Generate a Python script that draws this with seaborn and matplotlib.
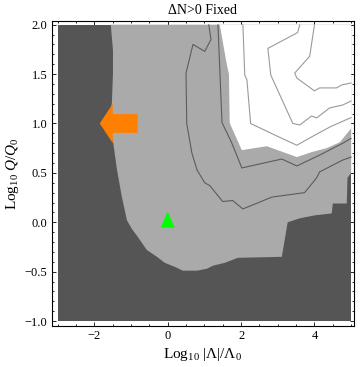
import numpy as np
import pandas as pd
import seaborn as sns
import matplotlib.pyplot as plt

# scan range of the parameter plane
x_range = [-3, 5]
y_range = [-1, 2]

# light grey region, clockwise from top left
light_x = [-1.55, -1.49, -1.49, -1.52, -1.60, -1.49, -1.38, -1.25, -1.11, -0.97, -0.81, -0.57,
           -0.29, -0.08, 0.25, 0.41, 0.80, 1.07, 1.23, 1.56, 1.91, 3.05, 3.11, 3.27, 3.60,
           4.01, 4.47, 4.50, 4.88, 4.90, 5.0, 5.0]
light_y = [2.0, 1.74, 1.51, 1.21, 1.0, 0.82, 0.53, 0.26, 0.02, -0.07, -0.15, -0.28,
           -0.35, -0.41, -0.46, -0.49, -0.49, -0.47, -0.44, -0.41, -0.36, -0.35, -0.35, 0.0, 0.04,
           0.07, 0.09, 0.19, 0.19, 0.45, 0.50, 2.0]

# white region, upper right
white_x = [1.42, 5.0, 5.0, 4.69, 4.33, 3.92, 3.52, 2.70, 2.02, 1.72, 1.69, 1.67, 1.61]
white_y = [2.0, 2.0, 0.95, 0.81, 0.75, 0.71, 0.66, 0.77, 0.73, 0.98, 1.01, 1.50, 1.60]

# dark contour lines inside the light region
outer_x = [1.12, 1.18, 1.01, 0.69, 0.50, 0.52, 0.66, 0.80, 1.01, 1.15, 1.50, 1.77, 2.05,
           2.84, 3.73, 4.06, 4.14, 4.77, 5.0]
outer_y = [2.0, 1.85, 1.73, 1.80, 1.51, 1.0, 0.70, 0.53, 0.40, 0.37, 0.21, 0.22, 0.135,
           0.255, 0.30, 0.45, 0.51, 0.63, 0.66]
inner_x = [1.37, 1.48, 1.75, 2.02, 3.11, 3.52, 4.14, 4.77, 5.0]
inner_y = [2.0, 1.01, 0.80, 0.55, 0.64, 0.57, 0.68, 0.80, 0.85]

# grey contour lines inside the white region
w1_x = [2.05, 2.10, 2.16, 2.26, 3.05, 3.52, 4.00, 4.45, 5.0]
w1_y = [2.0, 1.49, 1.44, 1.0, 0.86, 0.78, 0.88, 0.97, 1.06]
w2_x = [4.00, 3.87, 3.46, 3.52, 4.00, 4.14, 4.60, 4.74, 5.0]
w2_y = [2.0, 1.68, 1.51, 1.46, 1.33, 1.36, 1.36, 1.39, 1.41]
w3_x = [3.60, 3.54, 2.73, 2.81, 3.41, 3.60, 3.92, 4.06, 4.41, 4.77, 5.0]
w3_y = [2.0, 1.92, 1.76, 1.49, 1.0, 0.985, 1.076, 1.056, 1.157, 1.187, 1.228]

# markers
arrow_tail = (-0.82, 1.0)
arrow_tip = (-1.85, 1.0)
point_x = [0.0]
point_y = [0.0]

x_ticks = [-2, 0, 2, 4]
x_labels = ['\u22122', '0', '2', '4']
y_ticks = [-1.0, -0.5, 0.0, 0.5, 1.0, 1.5, 2.0]
y_labels = ['\u22121.0', '\u22120.5', '0.0', '0.5', '1.0', '1.5', '2.0']

DARK = '#555555'
LIGHT = '#aaaaaa'
ORANGE = '#ff8000'
GREEN = '#00ff00'

sns.set_theme(style='ticks')
plt.rcParams['font.family'] = ['Liberation Serif', 'DejaVu Serif']
plt.rcParams['mathtext.fontset'] = 'custom'
plt.rcParams['mathtext.rm'] = 'Liberation Serif'
plt.rcParams['mathtext.it'] = 'Liberation Serif:italic'
plt.rcParams['text.color'] = 'black'
plt.rcParams['axes.labelcolor'] = 'black'
plt.rcParams['xtick.labelcolor'] = 'black'
plt.rcParams['ytick.labelcolor'] = 'black'

fig = plt.figure(figsize=(3.6, 3.67), dpi=100)
ax = fig.add_axes([0.1436, 0.1125, 0.839, 0.831])

ax.fill_between(x_range, y_range[0], y_range[1], color=DARK, lw=0)
ax.fill(light_x, light_y, color=LIGHT, lw=0)
ax.fill(white_x, white_y, color='white', lw=0)

for xs, ys in [(outer_x, outer_y), (inner_x, inner_y)]:
    sns.lineplot(x=xs, y=ys, sort=False, estimator=None, color='#5c5c5c', lw=0.8, ax=ax)
for xs, ys in [(w1_x, w1_y), (w2_x, w2_y), (w3_x, w3_y)]:
    sns.lineplot(x=xs, y=ys, sort=False, estimator=None, color='#9a9a9a', lw=0.8, ax=ax)

ax.arrow(arrow_tail[0], arrow_tail[1], arrow_tip[0] - arrow_tail[0], arrow_tip[1] - arrow_tail[1],
         width=0.19, head_width=0.40, head_length=0.355, length_includes_head=True,
         fc=ORANGE, ec='none', zorder=5)

tri = [(0, 1), (-0.65, -0.5), (0.65, -0.5)]
sns.scatterplot(x=point_x, y=point_y, marker=tri, s=237, color=GREEN, edgecolor='none', zorder=6, ax=ax)

ax.set_xlim(-3.16, 5.07)
ax.set_ylim(-1.047, 2.04)
ax.set_xticks(x_ticks, x_labels)
ax.set_yticks(y_ticks, y_labels)
ax.set_xticks(np.arange(-3, 5.01, 0.5), minor=True)
ax.set_yticks(np.arange(-1, 2.01, 0.1), minor=True)
ax.tick_params(which='both', direction='in', top=True, right=True, width=0.6, color='black',
               labelsize=9, labelcolor='black', pad=3)
ax.tick_params(which='major', length=3.2)
ax.tick_params(which='minor', length=1.7)
for s in ax.spines.values():
    s.set_linewidth(0.8)
    s.set_color('black')

ax.set_title('\u0394N>0 Fixed', fontsize=10, pad=5, color='black')
ax.set_xlabel(r'Log$_{10}$ |$\Lambda$|/$\Lambda_0$', fontsize=11, labelpad=3, color='black')
ax.set_ylabel(r'Log$_{10}$ $Q/Q_0$', fontsize=11, labelpad=3, color='black')

fig.savefig('out.png', dpi=100)
